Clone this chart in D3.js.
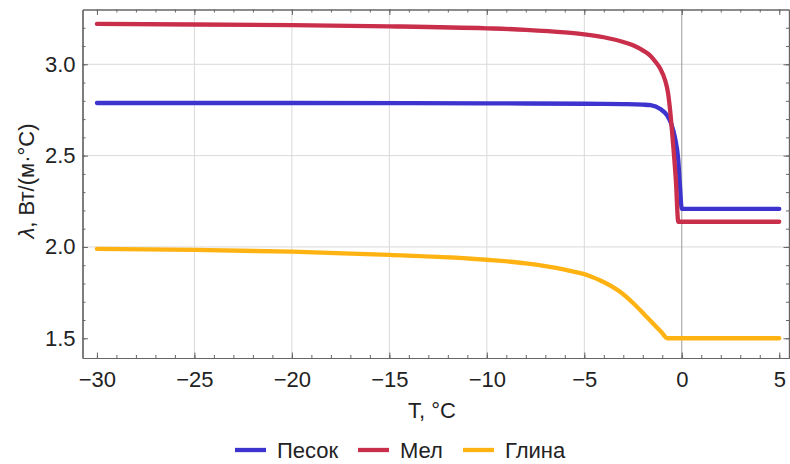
<!DOCTYPE html>
<html><head><meta charset="utf-8">
<script src="https://cdn.jsdelivr.net/npm/d3@7"></script>
<style>
html,body{margin:0;padding:0;background:#fff;}
text{font-family:"Liberation Sans",Arial,sans-serif;fill:#222;}
</style></head>
<body>
<svg id="chart" width="790" height="464"></svg>
<script>
// ---- data ----
const seriesNames = ["Песок", "Мел", "Глина"];
const seriesColors = ["#3d33cf", "#c92e4a", "#ffb313"];

const sandT = [-30, -20, -10, -5, -3, -2, -1.6, -1.1, -0.75, -0.55, -0.35, -0.18, -0.09, 0, 5];
const sandL = [2.788, 2.788, 2.786, 2.784, 2.782, 2.779, 2.776, 2.755, 2.72, 2.677, 2.60, 2.476, 2.33, 2.208, 2.208];

const chalkT = [-30, -25, -20, -15, -10, -8, -6, -5, -4, -3, -2.5, -2, -1.6, -1.35, -1.1, -0.86, -0.7, -0.6, -0.45, -0.3, -0.18, 0, 5];
const chalkL = [3.221, 3.218, 3.214, 3.208, 3.197, 3.189, 3.175, 3.164, 3.148, 3.122, 3.104, 3.076, 3.046, 3.014, 2.975, 2.914, 2.84, 2.75, 2.57, 2.36, 2.138, 2.138, 2.138];

const clayT = [-30, -25, -20, -15, -10, -8, -7, -6, -5.5, -5, -4.6, -4.2, -3.2, -2.5, -1.9, -1.3, -1, -0.85, -0.75, 0, 5];
const clayL = [1.989, 1.984, 1.974, 1.957, 1.93, 1.910, 1.895, 1.876, 1.864, 1.851, 1.836, 1.818, 1.757, 1.693, 1.628, 1.562, 1.528, 1.508, 1.50, 1.50, 1.50];

const xTicks = [-30, -25, -20, -15, -10, -5, 0, 5];
const yTicks = [1.5, 2.0, 2.5, 3.0];
const xGrid = [-25, -20, -15, -10, -5];
const yGrid = [2.0, 2.5, 3.0];
const xLabel = "T, °C";
const yLabelSym = "λ";
const yLabelRest = ", Вт/(м·°C)";

// ---- layout ----
const FS = 22;
const svg = d3.select("#chart");
const L = 82.5, R = 789, T = 9.5, B = 358;
const x = d3.scaleLinear().domain([-30.74, 5.5]).range([L, R]);
const y = d3.scaleLinear().domain([1.392, 3.30]).range([B, T]);

const series = [
  sandT.map((t, i) => [t, sandL[i]]),
  chalkT.map((t, i) => [t, chalkL[i]]),
  clayT.map((t, i) => [t, clayL[i]])
];

// grid
const g = svg.append("g");
g.selectAll("line.gx").data(xGrid).join("line")
  .attr("class", "gx")
  .attr("x1", d => x(d)).attr("x2", d => x(d)).attr("y1", T).attr("y2", B)
  .attr("stroke", "#d9d9d9").attr("stroke-width", 1);
g.selectAll("line.gy").data(yGrid).join("line")
  .attr("class", "gy")
  .attr("x1", L).attr("x2", R).attr("y1", d => y(d)).attr("y2", d => y(d))
  .attr("stroke", "#d9d9d9").attr("stroke-width", 1);
// zero axis
svg.append("line").attr("x1", x(0)).attr("x2", x(0)).attr("y1", T).attr("y2", B)
  .attr("stroke", "#9a9a9a").attr("stroke-width", 1);

// frame axes with inward ticks
const minorX = d3.range(-30, 6, 1);
const minorY = d3.range(15, 33, 1).map(v => v / 10);

function addAxis(axisGen, transform, showLabels) {
  const a = svg.append("g").attr("transform", transform).call(axisGen);
  a.attr("font-size", FS).attr("font-family", "Liberation Sans, Arial, sans-serif");
  a.select(".domain").attr("stroke", "#666").attr("stroke-width", 1.2);
  a.selectAll(".tick line").attr("stroke", "#666");
  if (!showLabels) a.selectAll(".tick text").remove();
  else a.selectAll(".tick text").attr("fill", "#222");
  return a;
}
// minor ticks
addAxis(d3.axisBottom(x).tickValues(minorX).tickSize(-3).tickSizeOuter(0).tickFormat(""), `translate(0,${B})`, false);
addAxis(d3.axisTop(x).tickValues(minorX).tickSize(-3).tickSizeOuter(0).tickFormat(""), `translate(0,${T})`, false);
addAxis(d3.axisLeft(y).tickValues(minorY).tickSize(-3).tickSizeOuter(0).tickFormat(""), `translate(${L},0)`, false);
addAxis(d3.axisRight(y).tickValues(minorY).tickSize(-3).tickSizeOuter(0).tickFormat(""), `translate(${R},0)`, false);
// major ticks
addAxis(d3.axisBottom(x).tickValues(xTicks).tickSize(-5.5).tickSizeOuter(0).tickPadding(13).tickFormat(d3.format("d")), `translate(0,${B})`, true);
addAxis(d3.axisTop(x).tickValues(xTicks).tickSize(-5.5).tickSizeOuter(0).tickFormat(""), `translate(0,${T})`, false);
addAxis(d3.axisLeft(y).tickValues(yTicks).tickSize(-5.5).tickSizeOuter(0).tickPadding(7).tickFormat(d3.format(".1f")), `translate(${L},0)`, true);
addAxis(d3.axisRight(y).tickValues(yTicks).tickSize(-5.5).tickSizeOuter(0).tickFormat(""), `translate(${R},0)`, false);

// lines
const line = d3.line().x(d => x(d[0])).y(d => y(d[1])).curve(d3.curveMonotoneX);
svg.append("g").selectAll("path").data(series).join("path")
  .attr("d", line)
  .attr("fill", "none")
  .attr("stroke", (d, i) => seriesColors[i])
  .attr("stroke-width", 4.3)
  .attr("stroke-linecap", "round")
  .attr("stroke-linejoin", "round");

// axis labels
svg.append("text").attr("x", 432).attr("y", 418)
  .attr("text-anchor", "middle").attr("font-size", FS).text(xLabel);
const yl = svg.append("text").attr("transform", "translate(34,181) rotate(-90)")
  .attr("text-anchor", "middle").attr("font-size", FS);
yl.append("tspan").attr("font-style", "italic").text(yLabelSym);
yl.append("tspan").text(yLabelRest);

// legend
const legX = [235, 358, 463];
const lg = svg.append("g").selectAll("g").data(seriesNames).join("g")
  .attr("transform", (d, i) => `translate(${legX[i]},450)`);
lg.append("line").attr("x1", 0).attr("x2", 31).attr("y1", 0).attr("y2", 0)
  .attr("stroke", (d, i) => seriesColors[i]).attr("stroke-width", 4.3);
lg.append("text").attr("x", 42).attr("y", 8).attr("font-size", FS).text(d => d);
</script>
</body></html>
